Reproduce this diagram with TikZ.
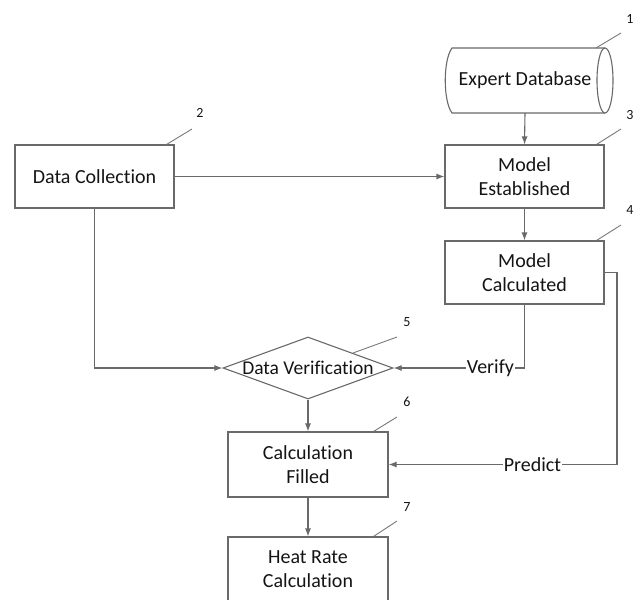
\documentclass[tikz,border=0pt]{standalone}
\usepackage{fontspec}
\setmainfont[Ligatures=NoCommon]{Carlito}
\usetikzlibrary{arrows.meta,calc,shapes.geometric}
\definecolor{edgegray}{RGB}{105,105,105}
\definecolor{leadgray}{RGB}{120,120,120}
\definecolor{txt}{RGB}{20,20,20}
\tikzset{
  boxnode/.style={draw=edgegray, line width=1.1pt, minimum width=159pt, minimum height=63pt, inner sep=0pt, align=center, text=txt, font=\fontsize{20}{24}\selectfont},
  conn/.style={draw=edgegray, line width=1.1pt, -{Latex[length=8pt,width=6pt]}},
  plainline/.style={draw=edgegray, line width=1.1pt},
  leader/.style={draw=leadgray, line width=0.9pt},
  numlabel/.style={text=txt, font=\fontsize{14}{16}\selectfont, inner sep=0pt},
  linelabel/.style={fill=white, text=txt, inner sep=1pt, font=\fontsize{20}{24}\selectfont},
}
\begin{document}
\begin{tikzpicture}[x=1pt,y=-1pt]
\useasboundingbox (0,0) rectangle (641,600);
% cylinder
\node[inner sep=0pt, minimum width=150pt, minimum height=65pt, text=txt, font=\fontsize{20}{24}\selectfont] (db) at (525,80.5) {Expert Database};
\draw[plainline] (605,48) -- (452,48) .. controls (443,60) and (443,101) .. (452,113) -- (605,113);
\draw[plainline] (605,80.5) ellipse (8 and 32.5);
% boxes
\node[boxnode] (dc) at (94.5,176.5) {Data Collection};
\node[boxnode] (me) at (524.5,176.5) {Model\\Established};
\node[boxnode] (mc) at (524.5,272.5) {Model\\Calculated};
\node[draw=edgegray, line width=1.1pt, shape=diamond, minimum width=170pt, minimum height=62pt, inner sep=0pt] (dv) at (308,368) {};
\node[text=txt, font=\fontsize{19.5}{24}\selectfont, inner sep=0pt] (dvt) at (dv.center) {Data Verification};
\node[boxnode, minimum width=160pt, minimum height=65pt] (cf) at (308,464.5) {Calculation\\Filled};
\node[boxnode, minimum width=160pt, minimum height=64pt] (hr) at (308,569) {Heat Rate\\Calculation};
% connectors
\coordinate (dcdown) at (94.5,368);
\coordinate (mcdown) at (524.5,368);
\coordinate (mcr1) at (617,272.5);
\coordinate (mcr2) at (617,464.5);
\draw[conn] (db.south) -- (me.north);
\draw[conn] (dc.east) -- (me.west);
\draw[conn] (me.south) -- (mc.north);
\draw[conn] (dc.south) -- (dcdown) -- (dv.west);
\draw[conn] (mc.south) -- (mcdown) -- node[linelabel, pos=0.26] (vlab) {Verify} (dv.east);
\draw[conn] (mc.east) -- (mcr1) -- (mcr2) -- node[linelabel, pos=0.37] (plab) {Predict} (cf.east);
\draw[conn] (dv.south) -- (cf.north);
\draw[conn] (cf.south) -- (hr.north);
% number labels and leaders
\node[numlabel] (n1) at (630,19) {1};
\node[numlabel] (n2) at (200,113) {2};
\node[numlabel] (n3) at (630,115) {3};
\node[numlabel] (n4) at (630,210) {4};
\node[numlabel] (n5) at (407,322) {5};
\node[numlabel] (n6) at (407,402) {6};
\node[numlabel] (n7) at (407,507) {7};
\draw[leader] (621,33) -- (596,48);
\draw[leader] (192,129) -- ($(dc.north east)+(-8,0)$);
\draw[leader] (621,129) -- ($(me.north east)+(-8,0)$);
\draw[leader] (621,225) -- ($(mc.north east)+(-8,0)$);
\draw[leader] (397,337) -- (353,353);
\draw[leader] (397,417) -- ($(cf.north east)+(-15,0)$);
\draw[leader] (397,521) -- ($(hr.north east)+(-15,0)$);
\end{tikzpicture}
\end{document}
